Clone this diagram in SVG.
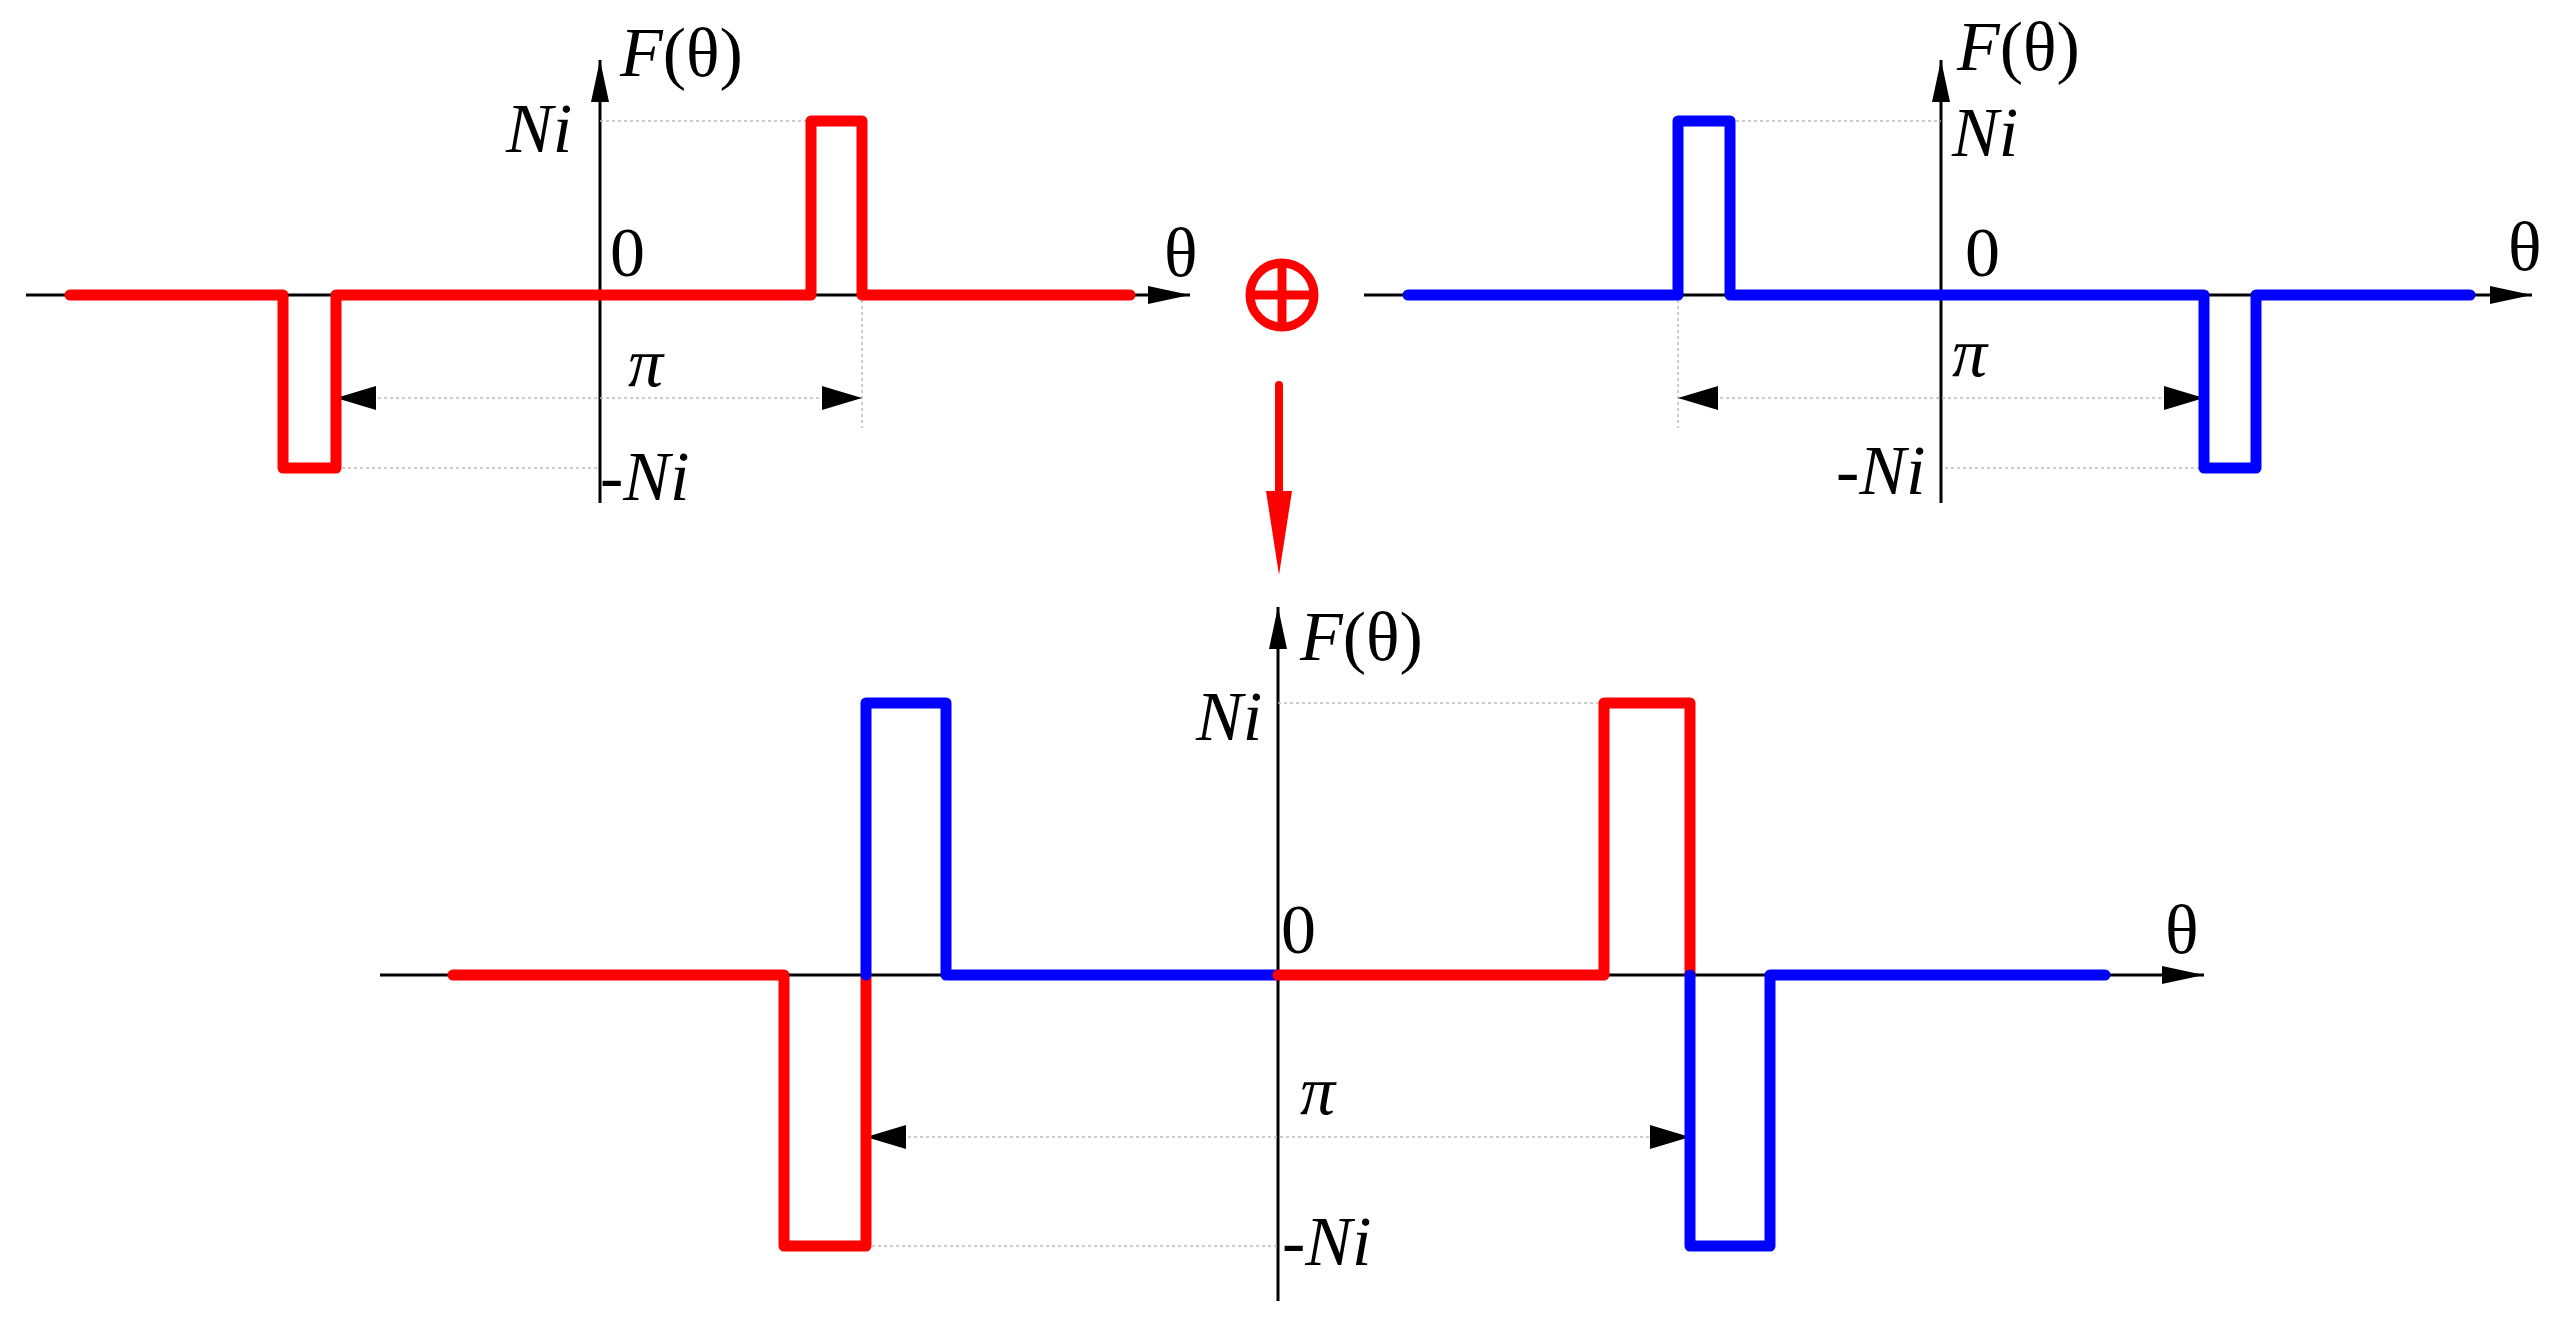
<svg xmlns="http://www.w3.org/2000/svg" width="2567" height="1327" viewBox="0 0 2567 1327">
<style>
.ax{stroke:#000;stroke-width:3;fill:none}
.dt{stroke:#bbb;stroke-width:1.5;stroke-dasharray:3 3;fill:none}
.r{stroke:#f00;stroke-width:11;fill:none;stroke-linejoin:round;stroke-linecap:round}
.b{stroke:#00f;stroke-width:11;fill:none;stroke-linejoin:round;stroke-linecap:round}
text{font-family:"Liberation Serif","Times New Roman",serif;font-size:70px;fill:#000}
.i{font-style:italic}
</style>
<defs>
<marker id="ah" markerWidth="14" markerHeight="6" refX="14" refY="3" orient="auto" markerUnits="strokeWidth"><path d="M0,0L14,3L0,6Z" fill="#000"/></marker>
</defs>
<g id="connectors">
<line class="ax" x1="26" y1="295" x2="1190" y2="295" marker-end="url(#ah)"/>
<line class="ax" x1="600" y1="503" x2="600" y2="60" marker-end="url(#ah)"/>
<line class="dt" x1="600" y1="121" x2="811" y2="121"/>
<line class="dt" x1="336" y1="468" x2="600" y2="468"/>
<line class="dt" x1="862" y1="300" x2="862" y2="428"/>
<line class="dt" x1="336" y1="398" x2="862" y2="398"/>
<path d="M336,398l40,-12v24z M862,398l-40,-12v24z" fill="#000"/>
<line class="ax" x1="1364" y1="295" x2="2532" y2="295" marker-end="url(#ah)"/>
<line class="ax" x1="1941" y1="503" x2="1941" y2="60" marker-end="url(#ah)"/>
<line class="dt" x1="1730" y1="121" x2="1941" y2="121"/>
<line class="dt" x1="1945" y1="468" x2="2204" y2="468"/>
<line class="dt" x1="1678" y1="300" x2="1678" y2="428"/>
<line class="dt" x1="1678" y1="398" x2="2204" y2="398"/>
<path d="M1678,398l40,-12v24z M2204,398l-40,-12v24z" fill="#000"/>
<line class="ax" x1="380" y1="975" x2="2204" y2="975" marker-end="url(#ah)"/>
<line class="ax" x1="1278" y1="1301" x2="1278" y2="607" marker-end="url(#ah)"/>
<line class="dt" x1="1278" y1="703" x2="1604" y2="703"/>
<line class="dt" x1="866" y1="1246" x2="1278" y2="1246"/>
<line class="dt" x1="866" y1="1137" x2="1690" y2="1137"/>
<path d="M866,1137l40,-12v24z M1690,1137l-40,-12v24z" fill="#000"/>
<line x1="1279" y1="385" x2="1279" y2="500" stroke="#f00" stroke-width="8" stroke-linecap="round"/>
<path d="M1266,491L1292,491L1279,575Z" fill="#f00"/>
</g>
<g id="curve-red-top">
<polyline class="r" points="70,295 283,295 283,468 336,468 336,295 811,295 811,121 862,121 862,295 1130,295"/>
</g>
<g id="curve-blue-top">
<polyline class="b" points="1408,295 1678,295 1678,121 1730,121 1730,295 2204,295 2204,468 2256,468 2256,295 2470,295"/>
</g>
<g id="oplus">
<circle cx="1282" cy="295" r="32" fill="none" stroke="#f00" stroke-width="9"/>
<line x1="1250" y1="295" x2="1314" y2="295" stroke="#f00" stroke-width="9"/>
<line x1="1282" y1="263" x2="1282" y2="327" stroke="#f00" stroke-width="9"/>
</g>
<g id="curve-sum">
<polyline class="r" points="453,975 784,975 784,1246 866,1246 866,975"/>
<polyline class="b" points="866,975 866,703 946,703 946,975 1278,975"/>
<polyline class="r" points="1278,975 1604,975 1604,703 1690,703 1690,975"/>
<polyline class="b" points="1690,975 1690,1246 1770,1246 1770,975 2105,975"/>
</g>
<g id="labels">
<text x="620" y="76"><tspan class="i">F</tspan>(θ)</text>
<text x="506" y="152" class="i">Ni</text>
<text x="610" y="276">0</text>
<text x="1164" y="276">θ</text>
<text x="628" y="386" class="i">π</text>
<text x="600" y="500" class="i">-Ni</text>
<text x="1957" y="70"><tspan class="i">F</tspan>(θ)</text>
<text x="1952" y="156" class="i">Ni</text>
<text x="1965" y="276">0</text>
<text x="2508" y="270">θ</text>
<text x="1952" y="376" class="i">π</text>
<text x="1836" y="494" class="i">-Ni</text>
<text x="1300" y="660"><tspan class="i">F</tspan>(θ)</text>
<text x="1196" y="740" class="i">Ni</text>
<text x="1281" y="953">0</text>
<text x="2165" y="953">θ</text>
<text x="1300" y="1114" class="i">π</text>
<text x="1282" y="1265" class="i">-Ni</text>
</g>
</svg>
